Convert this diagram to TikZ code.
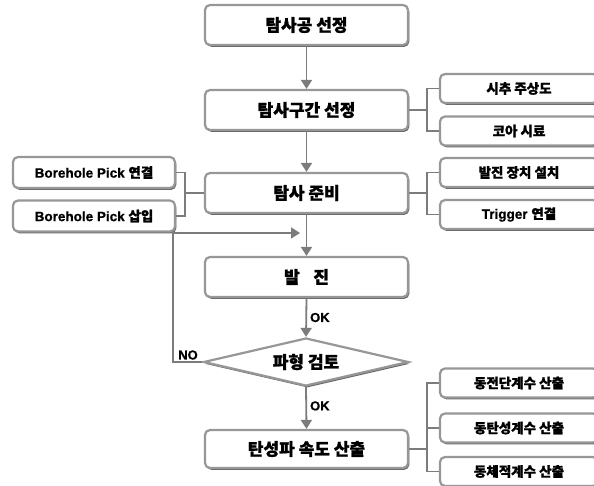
\documentclass[tikz,border=0pt]{standalone}
\usepackage{fontspec}
\setmainfont{Noto Sans CJK KR}[BoldFeatures={FakeBold=1.2}]
\newfontfamily\lat{Liberation Sans}[BoldFeatures={FakeBold=0.8}]
\usetikzlibrary{arrows.meta,shapes.geometric,shadows}
\definecolor{lg}{HTML}{979797}
\definecolor{ag}{HTML}{7C7C7C}
\tikzset{
  x=1pt,y=-1pt,
  boxbase/.style={draw=lg, line width=2.2pt, fill=white, rounded corners=5pt, inner sep=0pt, text=black,
    drop shadow={shadow xshift=1.3pt, shadow yshift=-1.8pt, fill=black!60, opacity=1}},
  mainbox/.style={boxbase, minimum width=203pt, minimum height=40pt, font=\fontsize{17}{17}\selectfont\bfseries},
  subbox/.style={boxbase, minimum width=158pt, minimum height=29pt, font=\fontsize{13.5}{13.5}\selectfont\bfseries},
  sidebox/.style={boxbase, minimum width=162pt, minimum height=31pt, font=\fontsize{13.5}{13.5}\selectfont\bfseries},
  decbox/.style={diamond, draw=lg, line width=2.2pt, fill=white, inner sep=0pt, aspect=4.27, text=black,
    minimum width=205pt, minimum height=48pt, font=\fontsize{17}{17}\selectfont\bfseries,
    drop shadow={shadow xshift=1.3pt, shadow yshift=-1.8pt, fill=black!60, opacity=1}},
  arr/.style={draw=ag, line width=1.8pt, -{Triangle[length=9pt,width=11pt]}},
  brk/.style={draw=ag, line width=1.1pt},
  lbl/.style={font=\fontsize{13}{13}\selectfont\lat\bfseries, inner sep=0pt, text=black},
}
\begin{document}
\begin{tikzpicture}
\useasboundingbox[fill=white] (0,0) rectangle (594,486);
\clip (0,0) rectangle (594,486);
% main column
\node[mainbox] (b1) at (306.5,25) {탐사공 선정};
\node[mainbox] (b2) at (306.5,110) {탐사구간 선정};
\node[mainbox] (b3) at (306.5,193) {탐사 준비};
\node[mainbox] (b4) at (306.5,277) {발\hspace{0.8em}진};
\node[decbox] (d1) at (306,362) {파형 검토};
\node[mainbox, minimum height=38pt] (b6) at (306.5,449) {탄성파 속도 산출};
% right boxes
\node[subbox] (r1) at (519,88.5) {시추 주상도};
\node[subbox] (r2) at (519,131) {코아 시료};
\node[subbox] (r3) at (519,172.5) {발진 장치 설치};
\node[subbox] (r4) at (519,214.5) {{\lat\bfseries Trigger }연결};
\node[subbox] (r5) at (519,383) {동전단계수 산출};
\node[subbox] (r6) at (519,428) {동탄성계수 산출};
\node[subbox] (r7) at (519,471.5) {동체적계수 산출};
% left boxes
\node[sidebox] (l1) at (94,172.5) {{\lat\bfseries Borehole Pick }연결};
\node[sidebox] (l2) at (94,216) {{\lat\bfseries Borehole Pick }삽입};
% main arrows
\draw[arr] (b1.south) -- (b2.north);
\draw[arr] (b2.south) -- (b3.north);
\draw[arr] (b3.south) -- (b4.north);
\draw[arr] (b4.south) -- node[lbl, right=3pt, pos=0.5] (ok1) {OK} (d1.north);
\draw[arr] (d1.south) -- node[lbl, right=3pt, pos=0.45] (ok2) {OK} (b6.north);
% feedback loop
\coordinate (nl) at (173,362);
\coordinate (fb) at (300,233);
\draw[arr] (d1.west) -- (nl) |- (fb);
\node[lbl] (no) at (188,355) {NO};
% brackets right
\coordinate (j2) at (427,110);
\draw[brk] (b2.east) -- (j2);
\draw[brk] (r1.west) -| (j2);
\draw[brk] (r2.west) -| (j2);
\coordinate (j3) at (427,193);
\draw[brk] (b3.east) -- (j3);
\draw[brk] (r3.west) -| (j3);
\draw[brk] (r4.west) -| (j3);
\coordinate (j6) at (427,449);
\draw[brk] (b6.east) -- (j6);
\draw[brk] (r5.west) -| (j6);
\draw[brk] (r7.west) -| (j6);
\draw[brk] (r6.west) -- (r6.west -| j6);
% bracket left
\coordinate (jl) at (185,193);
\draw[brk] (b3.west) -- (jl);
\draw[brk] (l1.east) -| (jl);
\draw[brk] (l2.east) -| (jl);
\end{tikzpicture}
\end{document}
